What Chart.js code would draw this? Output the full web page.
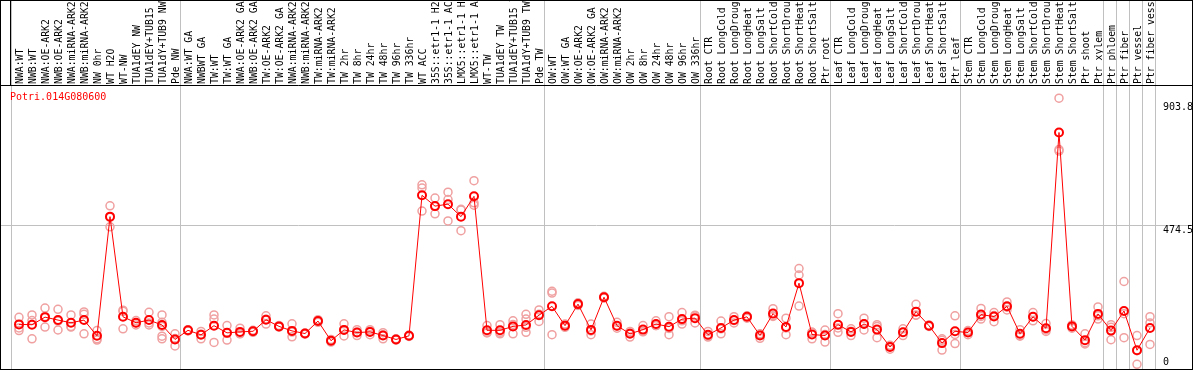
<!DOCTYPE html>
<html>
<head>
<meta charset="utf-8">
<script src="https://cdn.jsdelivr.net/npm/chart.js@4/dist/chart.umd.min.js"></script>
<style>
  body { margin: 0; background: #fff; }
  canvas { display: block; }
</style>
</head>
<body>
<canvas id="myChart" width="1194" height="370"></canvas>
<script>
const geneName = "Potri.014G080600";

const labels = [
  "NWA:WT", "NWB:WT", "NWA:OE-ARK2", "NWB:OE-ARK2", "NWA:miRNA-ARK2", "NWB:miRNA-ARK2",
  "NW 0hr", "WT H2O", "WT-NW", "TUA1dEY NW", "TUA1dEY+TUB15 NW", "TUA1dY+TUB9 NW", "Pde NW",
  "NWA:WT GA", "NWBWT GA", "TW:WT", "TW:WT GA", "NWA:OE-ARK2 GA", "NWB:OE-ARK2 GA",
  "TW:OE-ARK2", "TW:OE-ARK2 GA", "NWA:miRNA-ARK2", "NWB:miRNA-ARK2", "TW:miRNA-ARK2",
  "TW:miRNA-ARK2", "TW 2hr", "TW 8hr", "TW 24hr", "TW 48hr", "TW 96hr", "TW 336hr",
  "WT ACC", "35S::etr1-1 H2O", "35S::etr1-1 ACC", "LMX5::etr1-1 H2O", "LMX5::etr1-1 ACC",
  "WT-TW", "TUA1dEY TW", "TUA1dEY+TUB15 TW", "TUA1dY+TUB9 TW", "Pde TW",
  "OW:WT", "OW:WT GA", "OW:OE-ARK2", "OW:OE-ARK2 GA", "OW:miRNA-ARK2", "OW:miRNA-ARK2",
  "OW 2hr", "OW 8hr", "OW 24hr", "OW 48hr", "OW 96hr", "OW 336hr",
  "Root CTR", "Root LongCold", "Root LongDrought", "Root LongHeat", "Root LongSalt",
  "Root ShortCold", "Root ShortDrought", "Root ShortHeat", "Root ShortSalt", "Ptr root",
  "Leaf CTR", "Leaf LongCold", "Leaf LongDrought", "Leaf LongHeat", "Leaf LongSalt",
  "Leaf ShortCold", "Leaf ShortDrought", "Leaf ShortHeat", "Leaf ShortSalt", "Ptr leaf",
  "Stem CTR", "Stem LongCold", "Stem LongDrought", "Stem LongHeat", "Stem LongSalt",
  "Stem ShortCold", "Stem ShortDrought", "Stem ShortHeat", "Stem ShortSalt", "Ptr shoot",
  "Ptr xylem", "Ptr phloem", "Ptr fiber", "Ptr vessel", "Ptr fiber vessel"
];

const means = [
  138.9, 137.9, 163.5, 153.5, 144.5, 153.5, 100.3, 503.3, 164.5, 144.5, 153.5, 136.9, 88.0,
  118.9, 103.7, 134.6, 110.3, 113.6, 115.6, 154.5, 132.2, 116.9, 108.0, 150.2, 83.7,
  120.3, 111.3, 113.6, 101.3, 88.0, 100.3, 575.4, 538.9, 545.5, 503.3, 572.1,
  118.9, 118.9, 132.2, 136.9, 170.1,
  200.0, 134.6, 207.6, 120.3, 230.9, 134.6, 107.0, 121.3, 140.2, 131.2, 156.8, 160.1,
  103.7, 126.9, 153.5, 164.5, 101.3, 175.4, 130.2, 278.4, 104.7, 101.3,
  137.9, 113.6, 140.2, 121.3, 62.5, 112.3, 182.1, 134.6, 75.7, 115.6,
  111.3, 172.1, 165.4, 200.0, 107.0, 164.5, 125.6, 788.0, 132.2, 85.7,
  174.4, 117.9, 184.4, 51.5, 126.9
];

const replicates = [
  [163, 127, 118], [171, 90, 152], [194, 130, 166], [190, 120, 150], [171, 130, 132],
  [181, 173, 107], [118, 90, 86], [540, 469, 501], [183, 124, 187], [152, 137, 144],
  [180, 137, 144], [171, 146, 132, 99, 90], [107, 66, 91],
  [118, 121, 117], [115, 90, 106], [171, 157, 78], [135, 86, 110], [126, 107, 108],
  [112, 119, 116], [168, 140, 156], [130, 135, 132], [141, 97, 113], [106, 110, 108],
  [155, 146, 150], [79, 88, 84], [141, 100, 120], [121, 101, 112], [121, 104, 116],
  [111, 90, 103], [86, 90, 88], [98, 103, 100], [611, 600, 522], [566, 513, 538],
  [586, 561, 489], [526, 456, 528], [625, 550, 542], [135, 110, 112], [138, 107, 112],
  [151, 107, 139], [173, 157, 129, 112], [188, 149, 173],
  [251, 245, 104], [129, 140, 135], [212, 203, 208], [140, 104, 117], [234, 228, 231],
  [146, 126, 133], [115, 96, 110], [135, 115, 114], [151, 135, 135], [165, 104, 125],
  [179, 140, 151], [170, 144, 167],
  [115, 96, 100], [150, 107, 124], [165, 144, 152], [168, 160, 166], [107, 92, 105],
  [192, 168, 166], [160, 104, 127], [328, 306, 201], [112, 90, 112], [120, 79, 105],
  [175, 112, 127], [124, 101, 116], [160, 120, 141], [138, 94, 132], [68, 55, 65],
  [124, 101, 112], [207, 170, 170], [137, 132, 135], [90, 52, 85], [168, 74, 105],
  [118, 104, 112], [193, 157, 166], [179, 148, 169], [215, 188, 197], [121, 99, 101],
  [179, 151, 164], [142, 120, 115], [904, 730, 725], [137, 126, 134], [107, 77, 73],
  [198, 157, 168], [138, 87, 129], [284, 94, 175], [101, 4, 50], [165, 144, 71]
];

// first category of each group (and the end)
const groupStarts = [0, 13, 41, 53, 63, 73, 84, 85, 86, 87, 88];
const yTickLabels = ["903.8", "474.5", "0"];
const yTickValues = [903.8, 474.5, 0];

const FONT = "10px 'DejaVu Sans Mono', monospace";

function replicateSets() {
  const most = Math.max(...replicates.map((r) => r.length));
  const sets = [];
  for (let k = 0; k < most; k++) {
    sets.push({
      type: "line",
      data: replicates.map((r) => (r[k] === undefined ? null : r[k])),
      showLine: false,
      pointRadius: 4,
      pointBorderWidth: 1.5,
      pointBorderColor: "#f0a0a0",
      pointBackgroundColor: "rgba(0,0,0,0)",
      clip: false,
    });
  }
  return sets;
}

const framePlugin = {
  id: "frame",
  beforeDatasetsDraw(chart) {
    const { ctx, scales } = chart;
    const x = scales.x, y = scales.y;
    ctx.save();
    ctx.lineWidth = 1;
    ctx.strokeStyle = "#c0c0c0";
    groupStarts.forEach((g) => {
      const px = Math.round(x.getPixelForValue(g - 0.5) - 2) + 0.5;
      ctx.beginPath();
      ctx.moveTo(px, 0);
      ctx.lineTo(px, 370);
      ctx.stroke();
    });
    const py = Math.floor(y.getPixelForValue(474.5)) + 0.5;
    ctx.beginPath();
    ctx.moveTo(0, py);
    ctx.lineTo(1193, py);
    ctx.stroke();
    ctx.restore();
  },
  afterDraw(chart) {
    const { ctx, scales } = chart;
    const y = scales.y;
    ctx.save();
    ctx.strokeStyle = "#000";
    ctx.lineWidth = 1;
    ctx.strokeRect(0.5, 0.5, 1192, 369);
    ctx.beginPath();
    ctx.moveTo(0, 85.5);
    ctx.lineTo(1193, 85.5);
    ctx.moveTo(10.5, 0);
    ctx.lineTo(10.5, 85);
    ctx.stroke();

    ctx.font = FONT;
    ctx.fillStyle = "#ff0000";
    ctx.textBaseline = "top";
    ctx.textAlign = "left";
    ctx.fillText(geneName, 10, 92);

    ctx.fillStyle = "#000";
    yTickValues.forEach((v, i) => {
      let py = y.getPixelForValue(v);
      if (i === 0) py += 4;
      if (i === yTickValues.length - 1) py -= 8;
      ctx.fillText(yTickLabels[i], 1163, py);
    });
    ctx.restore();
  },
};

function renderChart() {
  const ctx = document.getElementById("myChart");
  new Chart(ctx, {
    data: {
      labels: labels,
      datasets: [
        {
          type: "line",
          data: means,
          borderColor: "#ff0000",
          borderWidth: 1,
          tension: 0,
          pointRadius: 4,
          pointBorderWidth: 2,
          pointBorderColor: "#ff0000",
          pointBackgroundColor: "rgba(0,0,0,0)",
          clip: false,
        },
        ...replicateSets(),
      ],
    },
    options: {
      responsive: false,
      animation: false,
      events: [],
      layout: { padding: { left: 12.5, right: 37.5, top: 0, bottom: 1 } },
      plugins: { legend: { display: false }, tooltip: { enabled: false } },
      scales: {
        x: {
          type: "category",
          position: "top",
          offset: true,
          grid: { display: false },
          border: { display: false },
          ticks: {
            autoSkip: false,
            minRotation: 90,
            maxRotation: 90,
            padding: -7,
            labelOffset: 13,
            color: "#000",
            font: { family: "'DejaVu Sans Mono', monospace", size: 9.8 },
          },
          afterFit(scale) {
            scale.height = 85;
          },
        },
        y: {
          display: false,
          min: 5,
          max: 948.5,
        },
      },
    },
    plugins: [framePlugin],
  });
}

window.onload = renderChart;
</script>
</body>
</html>
